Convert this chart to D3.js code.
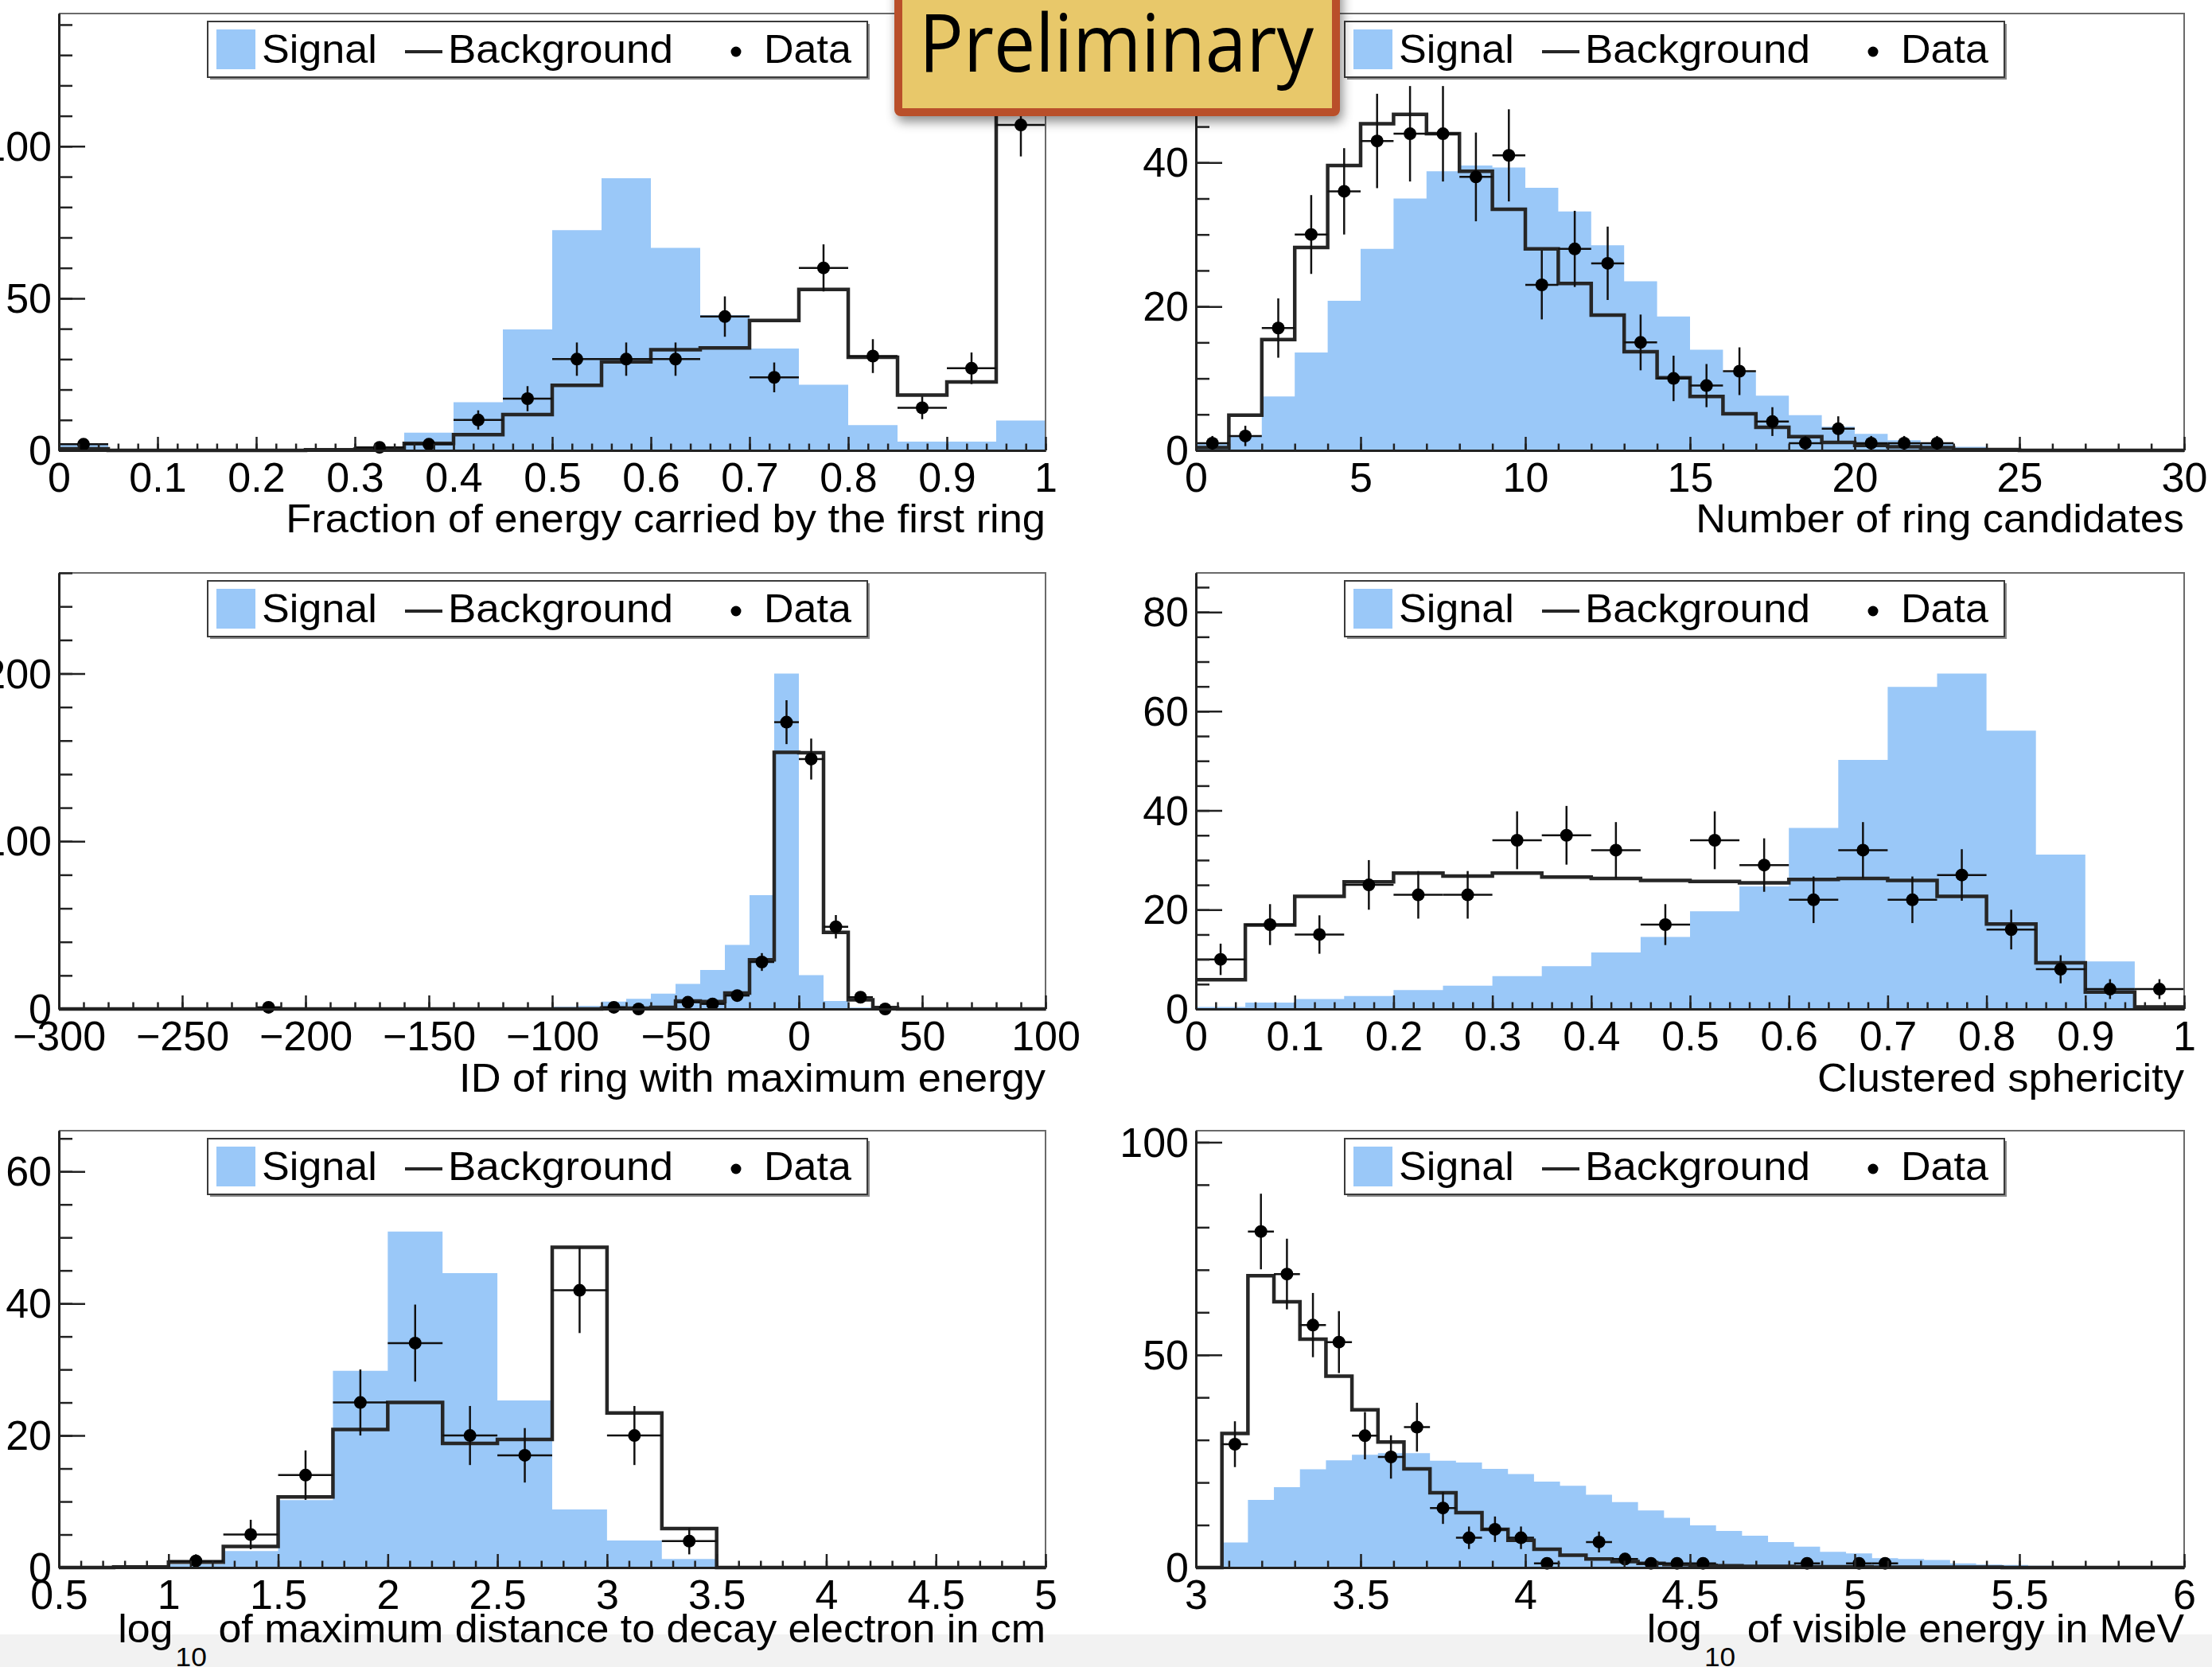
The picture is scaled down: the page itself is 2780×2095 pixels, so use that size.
<!DOCTYPE html>
<html>
<head>
<meta charset="utf-8">
<script src="https://cdn.jsdelivr.net/npm/d3@7"></script>
<style>
  html, body { margin: 0; padding: 0; background: #ffffff; }
  svg { display: block; font-family: "Liberation Sans", Arial, Helvetica, sans-serif; }
</style>
</head>
<body>
<script>
// ---------------------------------------------------------------
// Histogram contents (one value per bin, null = no data point)
// ---------------------------------------------------------------
const legendLabels = ["Signal", "Background", "Data"];

// Fraction of energy carried by the first ring: 20 bins on [0, 1]
const fracSignal     = [2.0, 0, 0, 0, 0.2, 0.3, 1.0, 5.8, 15.8, 39.8, 72.4, 89.5, 66.6, 44.5, 33.5, 21.6, 8.3, 2.9, 2.9, 9.8];
const fracBackground = [0.5, 0, 0, 0, 0, 0.2, 0.4, 2.3, 5.2, 11.8, 21.4, 29.1, 33.1, 33.7, 42.7, 52.9, 30.6, 18.2, 22.5, 110.5];
const fracData       = [2, null, null, null, null, null, 1, 2, 10, 17, 30, 30, 30, 44, 24, 60, 31, 14, 27, 107];

// Number of ring candidates: 30 bins on [0, 30]
const ringSignal     = [1.0, 2.1, 7.5, 13.6, 20.8, 28.0, 35.0, 38.8, 39.6, 39.3, 36.5, 33.2, 28.5, 23.5, 18.6, 14.0, 10.9, 7.6, 4.9, 3.3, 2.3, 1.4, 1.0, 0.5, 0.2, 0.1, 0, 0, 0, 0];
const ringBackground = [0.4, 4.9, 15.4, 28.2, 39.6, 45.4, 46.7, 44.0, 38.8, 33.5, 28.0, 23.2, 18.8, 13.7, 10.1, 7.5, 5.1, 3.2, 1.9, 1.1, 0.7, 0.5, 0.4, 0.1, 0.1, 0, 0, 0, 0, 0];
const ringData       = [1, 2, 17, 30, 36, 43, 44, 44, 38, 41, 23, 28, 26, 15, 10, 9, 11, 4, 1, 3, 1, 1, 1, null, null, null, null, null, null, null];

// ID of ring with maximum energy: 40 bins on [-300, 100]
const idSignal     = [0, 0, 0, 0, 0, 0, 0, 0, 0, 0,
                      0.3, 0.4, 0.4, 0.5, 0.5, 0.6, 0.7, 0.8, 0.9, 1.0,
                      1.3, 1.8, 4.4, 6.0, 9.1, 15.0, 23.3, 38.2, 67.8, 200,
                      20.2, 4.7, 0.8, 0, 0, 0, 0, 0, 0, 0];
const idBackground = [0, 0, 0, 0, 0, 0, 0, 0, 0, 0,
                      0, 0, 0, 0, 0, 0, 0, 0, 0, 0,
                      0, 0, 0.5, 0.5, 1.0, 4.7, 4.4, 9.5, 29.3, 153,
                      152.8, 45.7, 5.5, 0.8, 0, 0, 0, 0, 0, 0];
const idData       = [null, null, null, null, null, null, null, null, 1, null,
                      null, null, null, null, null, null, null, null, null, null,
                      null, null, 1, 0, null, 4, 3, 8, 28, 171,
                      149, 49, 7, 0, null, null, null, null, null, null];

// Clustered sphericity: 20 bins on [0, 1]
const sphSignal     = [0.4, 1.3, 2.0, 2.6, 3.8, 4.7, 6.6, 8.6, 11.4, 14.5, 19.7, 24.7, 36.5, 50.2, 64.9, 67.6, 56.1, 31.1, 9.6, 0.3];
const sphBackground = [5.9, 16.9, 22.7, 25.6, 27.4, 26.8, 27.4, 26.6, 26.3, 25.9, 25.7, 25.4, 26.1, 26.3, 25.9, 22.7, 17.1, 9.3, 3.4, 0.4];
const sphData       = [10, 17, 15, 25, 23, 23, 34, 35, 32, 17, 34, 29, 22, 32, 22, 27, 16, 8, 4, 4];

// log10 of maximum distance to decay electron: 18 bins on [0.5, 5]
const distSignal     = [0, 0.1, 0.5, 2.5, 10.2, 29.8, 50.9, 44.6, 25.3, 8.8, 4.1, 1.3, 0, 0, 0, 0, 0, 0];
const distBackground = [0, 0.1, 0.8, 3.2, 10.7, 20.9, 25.0, 18.8, 19.4, 48.5, 23.4, 5.9, 0, 0, 0, 0, 0, 0];
const distData       = [null, null, 1, 5, 14, 25, 34, 20, 17, 42, 20, 4, null, null, null, null, null, null];

// log10 of visible energy: 38 bins on [3, 6]
const visSignal     = [0, 5.9, 15.9, 18.9, 23.1, 25.2, 26.5, 26.9, 26.9, 25.1, 24.7, 23.2, 22.0, 20.2, 19.2, 17.1, 15.4, 13.4, 11.7, 9.9,
                       8.6, 7.5, 6.0, 4.9, 3.7, 3.3, 2.2, 2.0, 1.8, 1.0, 0.7, 0.6, 0.4, 0.3, 0.2, 0.1, 0.1, 0];
const visBackground = [0, 31.5, 68.6, 62.5, 53.7, 45.0, 37.1, 29.5, 23.2, 17.6, 12.9, 9.0, 6.4, 4.3, 2.9, 2.0, 1.4, 1.0, 0.7, 0.5,
                       0.4, 0.3, 0.3, 0.2, 0.2, 0.2, 0.1, 0.1, 0.1, 0.1, 0.1, 0, 0, 0, 0, 0, 0, 0];
const visData       = [null, 29, 79, 69, 57, 53, 31, 26, 33, 14, 7, 9, 7, 1, null, 6, 2, 1, 1, 1,
                       null, null, null, 1, null, 1, 1, null, null, null, null, null, null, null, null, null, null, null];

// Axis titles
const titles = [
  { text: "Fraction of energy carried by the first ring" },
  { text: "Number of ring candidates" },
  { text: "ID of ring with maximum energy" },
  { text: "Clustered sphericity" },
  { pre: "log", sub: "10", text: "of maximum distance to decay electron in cm" },
  { pre: "log", sub: "10", text: "of visible energy in MeV" }
];

// ---------------------------------------------------------------
// Page layout
// ---------------------------------------------------------------
const W = 2780, H = 2095;
const SIGNAL_FILL = "#9ac8f8";
const LINE_COL = "#262626";

const panels = [
  { frame: [74, 17, 1314, 566],    xDomain: [0, 1],     nBins: 20, sig: fracSignal, bkg: fracBackground, dat: fracData, xMajor: 0.1, xMinor: 0.02, yMajor: 50,  yMinor: 10, title: titles[0], titleW: 955,  titleY: 669 },
  { frame: [1503, 17, 2745, 566],  xDomain: [0, 30],    nBins: 30, sig: ringSignal, bkg: ringBackground, dat: ringData, xMajor: 5,   xMinor: 1,    yMajor: 20,  yMinor: 5,  title: titles[1], titleW: 614,  titleY: 669 },
  { frame: [74, 720, 1314, 1268],  xDomain: [-300, 100], nBins: 40, sig: idSignal, bkg: idBackground, dat: idData,       xMajor: 50,  xMinor: 10,   yMajor: 100, yMinor: 20, title: titles[2], titleW: 737,  titleY: 1372 },
  { frame: [1503, 720, 2745, 1268], xDomain: [0, 1],    nBins: 20, sig: sphSignal, bkg: sphBackground, dat: sphData,    xMajor: 0.1, xMinor: 0.02, yMajor: 20,  yMinor: 5,  title: titles[3], titleW: 461,  titleY: 1372 },
  { frame: [74, 1421, 1314, 1970], xDomain: [0.5, 5],   nBins: 18, sig: distSignal, bkg: distBackground, dat: distData, xMajor: 0.5, xMinor: 0.1,  yMajor: 20,  yMinor: 5,  title: titles[4], titleW: 1166, titleY: 2064 },
  { frame: [1503, 1421, 2745, 1970], xDomain: [3, 6],   nBins: 38, sig: visSignal, bkg: visBackground, dat: visData,    xMajor: 0.5, xMinor: 0.1,  yMajor: 50,  yMinor: 10, title: titles[5], titleW: 676,  titleY: 2064 }
];

const svg = d3.select("body").append("svg")
  .attr("width", W).attr("height", H)
  .attr("viewBox", `0 0 ${W} ${H}`);

svg.append("rect").attr("width", W).attr("height", H).attr("fill", "#ffffff");
// light strip along the bottom edge of the page
svg.append("rect").attr("x", 0).attr("y", 2054).attr("width", W).attr("height", H - 2054).attr("fill", "#f2f2f2");

const defs = svg.append("defs");
const shadow = defs.append("filter").attr("id", "boxShadow")
  .attr("x", "-10%").attr("y", "-10%").attr("width", "130%").attr("height", "140%");
shadow.append("feDropShadow").attr("dx", 3).attr("dy", 7).attr("stdDeviation", 7)
  .attr("flood-color", "#000").attr("flood-opacity", 0.45);

// squeeze or stretch a text element horizontally to a given width
function fitText(sel, x, y, width) {
  const len = sel.node().getBBox().width;
  const k = len > 0 ? width / len : 1;
  sel.attr("transform", `translate(${x},${y}) scale(${k},1)`);
}

function stepRange(a, b, step) {
  const n = Math.round((b - a) / step);
  return d3.range(n + 1).map(i => +(a + i * step).toFixed(6));
}

const fmtTick = d => String(d).replace("-", "\u2212");

panels.forEach(p => {
  const [L, T, R, B] = p.frame;
  const g = svg.append("g");
  const bw = (p.xDomain[1] - p.xDomain[0]) / p.nBins;
  const lo = i => p.xDomain[0] + i * bw;

  const yMax = 1.3 * d3.max([d3.max(p.sig), d3.max(p.bkg), d3.max(p.dat.filter(v => v != null))]);
  const x = d3.scaleLinear().domain(p.xDomain).range([L, R]);
  const y = d3.scaleLinear().domain([0, yMax]).range([B, T]);

  // step points: one per bin low edge plus closing edge
  const steps = arr => arr.map((v, i) => [lo(i), v]).concat([[p.xDomain[1], arr[arr.length - 1]]]);

  // signal as filled step histogram
  const area = d3.area().curve(d3.curveStepAfter)
    .x(d => x(d[0])).y0(y(0)).y1(d => y(d[1]));
  g.append("path").attr("d", area(steps(p.sig))).attr("fill", SIGNAL_FILL).attr("stroke", "none");

  // background as outline step histogram
  const line = d3.line().curve(d3.curveStepAfter).x(d => x(d[0])).y(d => y(d[1]));
  g.append("path").attr("d", line(steps(p.bkg)))
    .attr("fill", "none").attr("stroke", LINE_COL).attr("stroke-width", 4.5)
    .attr("stroke-linejoin", "miter");

  // data points with Poisson error bars
  const pts = p.dat.map((v, i) => ({ v, i })).filter(d => d.v != null);
  const dg = g.append("g");
  pts.forEach(d => {
    const xc = x(lo(d.i) + bw / 2);
    const err = Math.sqrt(d.v);
    dg.append("line").attr("x1", x(lo(d.i))).attr("x2", x(lo(d.i) + bw))
      .attr("y1", y(d.v)).attr("y2", y(d.v)).attr("stroke", "#111").attr("stroke-width", 2.5);
    if (err > 0) {
      dg.append("line").attr("x1", xc).attr("x2", xc)
        .attr("y1", y(d.v - err)).attr("y2", y(d.v + err)).attr("stroke", "#111").attr("stroke-width", 2.5);
    }
    dg.append("circle").attr("cx", xc).attr("cy", y(d.v)).attr("r", 8).attr("fill", "#000");
  });

  // frame top & right
  g.append("path").attr("d", `M${L},${T}H${R}V${B}`).attr("fill", "none")
    .attr("stroke", "#6a6a6a").attr("stroke-width", 2);

  // x axis: minor then major ticks, pointing into the frame
  const xMinorAxis = d3.axisBottom(x).tickValues(stepRange(p.xDomain[0], p.xDomain[1], p.xMinor))
    .tickSizeInner(-8.5).tickSizeOuter(0).tickFormat("");
  const xMajorAxis = d3.axisBottom(x).tickValues(stepRange(p.xDomain[0], p.xDomain[1], p.xMajor))
    .tickSizeInner(-17).tickSizeOuter(0).tickPadding(15).tickFormat(fmtTick);
  const gxm = g.append("g").attr("transform", `translate(0,${B})`).call(xMinorAxis);
  const gx = g.append("g").attr("transform", `translate(0,${B})`).call(xMajorAxis);

  // y axis
  const yTop = Math.floor(yMax / p.yMinor) * p.yMinor;
  const yMinorAxis = d3.axisLeft(y).tickValues(stepRange(0, yTop, p.yMinor))
    .tickSizeInner(-17).tickSizeOuter(0).tickFormat("");
  const yMajorAxis = d3.axisLeft(y).tickValues(stepRange(0, Math.floor(yMax / p.yMajor) * p.yMajor, p.yMajor))
    .tickSizeInner(-33).tickSizeOuter(0).tickPadding(9).tickFormat(fmtTick);
  const gym = g.append("g").attr("transform", `translate(${L},0)`).call(yMinorAxis);
  const gy = g.append("g").attr("transform", `translate(${L},0)`).call(yMajorAxis);

  [gxm, gx, gym, gy].forEach(a => {
    a.attr("font-family", null).attr("font-size", null);
    a.selectAll("path.domain").attr("stroke", "#222").attr("stroke-width", 3);
    a.selectAll(".tick line").attr("stroke", "#222").attr("stroke-width", 2.5);
    a.selectAll(".tick text").attr("fill", "#000").style("font-size", "52px")
      .style("font-family", '"Liberation Sans", Arial, Helvetica, sans-serif');
  });
  gy.selectAll(".tick text").attr("dy", "0.34em");

  // legend box
  const lx = L + 187, ly = T + 10, lw = 829, lh = 70;
  const lg = g.append("g");
  lg.append("rect").attr("x", lx + 3).attr("y", ly + 3).attr("width", lw).attr("height", lh).attr("fill", "#8a8a8a");
  lg.append("rect").attr("x", lx).attr("y", ly).attr("width", lw).attr("height", lh)
    .attr("fill", "#fff").attr("stroke", "#3a3a3a").attr("stroke-width", 2);
  lg.append("rect").attr("x", lx + 11).attr("y", ly + 10).attr("width", 49).attr("height", 50).attr("fill", SIGNAL_FILL);
  lg.append("line").attr("x1", lx + 248).attr("x2", lx + 295).attr("y1", ly + 38).attr("y2", ly + 38)
    .attr("stroke", LINE_COL).attr("stroke-width", 4);
  lg.append("circle").attr("cx", lx + 664).attr("cy", ly + 38).attr("r", 6.5).attr("fill", "#000");
  const legendPos = [[lx + 68, 145], [lx + 302, 283], [lx + 699, 110]];
  legendLabels.forEach((lab, i) => {
    const t = lg.append("text").attr("x", 0).attr("y", 0).attr("fill", "#000")
      .style("font-size", "50px").text(lab);
    fitText(t, legendPos[i][0], ly + 52, legendPos[i][1]);
  });

  // axis title, right-aligned to the frame
  const tt = g.append("text").attr("x", 0).attr("y", 0).attr("text-anchor", "end")
    .attr("fill", "#000").style("font-size", "50px");
  if (p.title.sub) {
    tt.append("tspan").text(p.title.pre);
    tt.append("tspan").attr("dx", 3).attr("dy", 30).style("font-size", "34px").text(p.title.sub);
    tt.append("tspan").attr("dx", 14).attr("dy", -30).text(p.title.text);
  } else {
    tt.text(p.title.text);
  }
  fitText(tt, R, p.titleY, p.titleW);
});

// "Preliminary" stamp
const stamp = svg.append("g");
stamp.append("rect").attr("x", 1129).attr("y", -20).attr("width", 550).attr("height", 161).attr("rx", 3)
  .attr("fill", "#e8c86a").attr("stroke", "#b9502a").attr("stroke-width", 10)
  .attr("filter", "url(#boxShadow)");
const st = stamp.append("text").attr("x", 0).attr("y", 0).attr("fill", "#000")
  .style("font-family", '"Open Sans", "DejaVu Sans", sans-serif').style("font-size", "100px").text("Preliminary");
fitText(st, 1155, 90, 497);
</script>
</body>
</html>
